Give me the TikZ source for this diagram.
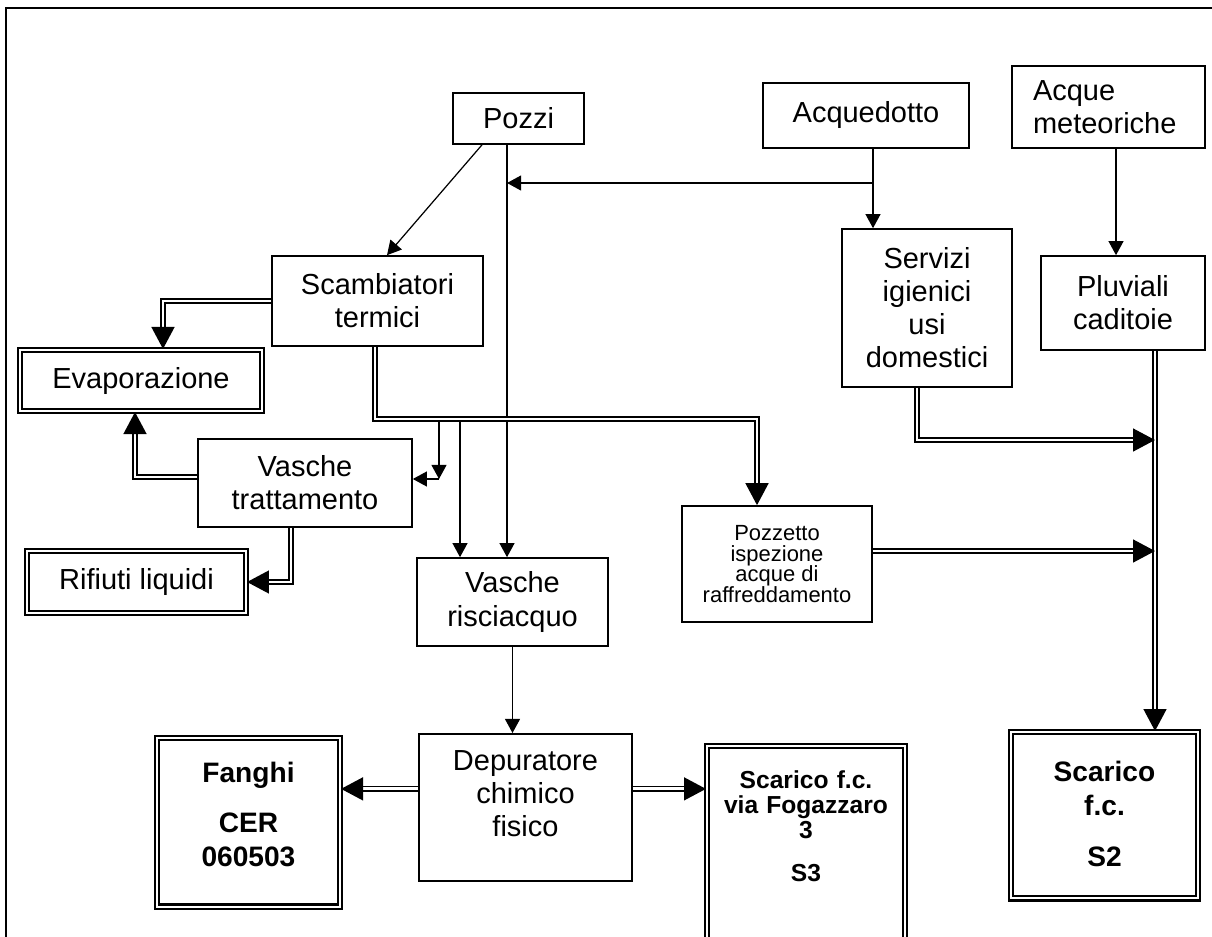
\documentclass[tikz,border=0pt]{standalone}
\usepackage{fontspec}
\setmainfont{Liberation Sans}
\usetikzlibrary{arrows.meta}

\newcommand{\boxfont}{\fontsize{16.5}{18.8}\selectfont}
\newcommand{\smallboxfont}{\fontsize{12.5}{11.8}\selectfont}
\newcommand{\sinkfont}{\fontsize{16}{19.3}\selectfont\bfseries}
\newcommand{\outletfont}{\fontsize{14}{14.3}\selectfont\bfseries}

\begin{document}
\begin{tikzpicture}[x=0.02cm, y=-0.02cm,
    box/.style={rectangle, draw, line width=0.95pt, align=center, inner sep=0pt, font=\boxfont},
    dbox/.style={rectangle, draw, double, double distance=1.5pt, line width=1.2pt, align=center, inner sep=0pt, font=\boxfont},
    sink/.style={dbox, anchor=north, font=\sinkfont},
    flow/.style={line width=0.7pt, -{Triangle[width=8.5pt, length=8pt]}},
    dflow/.style={double, double distance=1.6pt, line width=1.1pt, -{Triangle[width=13pt, length=12.5pt]}}]
        \path[use as bounding box, clip] (0,0) rectangle (1212,936);
        \draw[line width=1.4pt] (6,8) rectangle (1240,970);

        % Define nodes
        \node (pozzi) [box, minimum width=2.62cm, minimum height=1.02cm] at (518.5,118.5) {Pozzi};
        \node (acq) [box, minimum width=4.12cm, minimum height=1.3cm] at (866,115.5) {Acquedotto};
        \node (meteo) [box, text width=3.02cm, inner xsep=0.42cm, align=left, minimum height=1.64cm] at (1108.5,107) {Acque\\meteoriche};
        \node (scamb) [box, minimum width=4.22cm, minimum height=1.8cm] at (377.5,301) {Scambiatori\\termici};
        \node (serv) [box, minimum width=3.4cm, minimum height=3.16cm] at (927,308) {Servizi\\igienici\\usi\\domestici};
        \node (pluv) [box, minimum width=3.28cm, minimum height=1.88cm] at (1123,303) {Pluviali\\caditoie};
        \node (evap) [dbox, minimum width=4.84cm, minimum height=1.22cm] at (141,380.5) {Evaporazione};
        \node (vtratt) [box, minimum width=4.28cm, minimum height=1.76cm] at (305,483) {Vasche\\trattamento};
        \node (rifiuti) [dbox, minimum width=4.38cm, minimum height=1.24cm] at (136.5,582) {Rifiuti liquidi};
        \node (vrisc) [box, minimum width=3.82cm, minimum height=1.76cm] at (512.5,602) {Vasche\\risciacquo};
        \node (pozzetto) [box, minimum width=3.8cm, minimum height=2.32cm, font=\smallboxfont] at (777,564) {Pozzetto\\ispezione\\acque di\\raffreddamento};
        \node (depur) [box, anchor=north, text width=4.26cm, text height=21.1pt, text depth=62.6pt] at (525.5,733) {Depuratore\\chimico\\fisico};
        \node (fanghi) [sink, text width=3.66cm, text height=25.3pt, text depth=70.8pt] at (248.5,737) {Fanghi\\[9pt]CER\\060503};
        \node (scS3) [sink, font=\outletfont, text width=3.96cm, text height=23.9pt, text depth=115.5pt] at (806,745) {Scarico f.c.\\via Fogazzaro\\3\\[10pt]S3};
        \node (scS2) [sink, text width=3.74cm, text height=28.4pt, text depth=66.1pt] at (1104.5,731) {Scarico\\f.c.\\[9.5pt]S2};

        % Junctions on the lines
        \coordinate (pz) at ([xshift=-0.23cm]pozzi.south);
        \coordinate (aq) at ([xshift=0.14cm]acq.south);
        \coordinate (mt) at ([xshift=0.15cm]meteo.south);
        \coordinate (tap) at (873,183);
        \coordinate (cw) at (375,419);
        \coordinate (br1) at (439,422);
        \coordinate (br1e) at (439,479);
        \coordinate (br2) at (460,422);
        \coordinate (trunk) at ([xshift=0.64cm]pluv.south);
        \coordinate (sv) at (917,440);
        \coordinate (pzo) at ([yshift=0.26cm]pozzetto.east);
        \coordinate (dep) at ([yshift=0.37cm]depur.west);
        \coordinate (depe) at ([yshift=0.37cm]depur.east);

        % Draw arrows
        \draw[flow] ([xshift=-0.73cm]pozzi.south) -- ([xshift=0.19cm]scamb.north);
        \draw[flow] (pz) -- (pz |- vrisc.north);
        \draw[flow] (aq) -- (aq |- serv.north);
        \draw[flow] (tap) -- (tap -| pz);
        \draw[flow] (mt) -- (mt |- pluv.north);
        \draw[flow] (br1) -- (br1e);
        \draw[flow] (br1e) -- (br1e -| vtratt.east);
        \draw[flow] (br2) -- (br2 |- vrisc.north);
        \draw[flow] (vrisc.south) -- (vrisc.south |- depur.north);

        % Double lines
        \draw[dflow] (scamb.west) -| ([xshift=0.44cm]evap.north);
        \draw[dflow] ([yshift=0.12cm]vtratt.west) -| ([xshift=-0.12cm]evap.south);
        \draw[dflow] ([xshift=-0.28cm]vtratt.south) |- (rifiuti.east);
        \draw[dflow] (cw |- scamb.south) -- (cw) -| ([xshift=-0.4cm]pozzetto.north);
        \draw[dflow] (trunk) -- (trunk |- scS2.north);
        \draw[dflow] (sv |- serv.south) -- (sv) -- (sv -| trunk);
        \draw[dflow] (pzo) -- (pzo -| trunk);
        \draw[dflow] (dep) -- (dep -| fanghi.east);
        \draw[dflow] (depe) -- (depe -| scS3.west);
\end{tikzpicture}
\end{document}
